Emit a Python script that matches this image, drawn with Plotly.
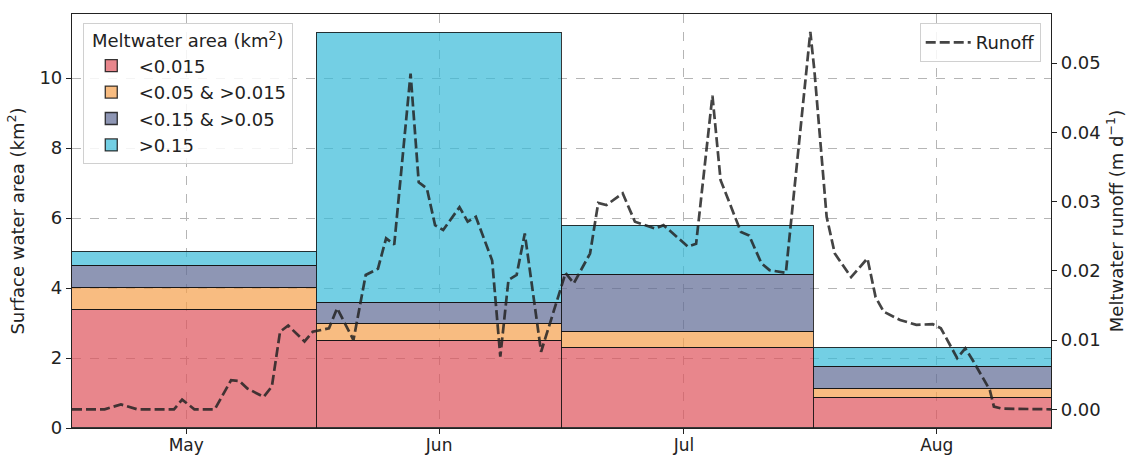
import plotly.graph_objects as go

# Monthly surface meltwater area, split by lake-size class (km^2)
month_start = ["2019-05-01", "2019-06-01", "2019-07-01", "2019-08-01"]
month_days = [31, 30, 31, 31]
area_small = [3.37, 2.49, 2.28, 0.85]      # < 0.015 km^2
area_medium = [0.62, 0.48, 0.47, 0.26]     # 0.015 - 0.05 km^2
area_large = [0.63, 0.61, 1.61, 0.62]      # 0.05 - 0.15 km^2
area_xlarge = [0.41, 7.70, 1.42, 0.55]     # > 0.15 km^2

class_names = ["<0.015", "<0.05 & >0.015", "<0.15 & >0.05", ">0.15"]
class_colors = [
    "rgba(222, 82, 91, 0.7)",
    "rgba(245, 159, 76, 0.7)",
    "rgba(94, 105, 148, 0.7)",
    "rgba(56, 186, 216, 0.7)",
]

# Modelled meltwater runoff (m d^-1)
runoff_time = [
    "2019-05-02 00:00", "2019-05-06 00:00", "2019-05-08 00:00", "2019-05-10 00:00",
    "2019-05-14 12:00", "2019-05-15 12:00", "2019-05-17 00:00", "2019-05-19 12:00",
    "2019-05-21 12:00", "2019-05-22 12:00", "2019-05-23 12:00", "2019-05-25 12:00",
    "2019-05-26 12:00", "2019-05-27 12:00", "2019-05-28 12:00", "2019-05-30 12:00",
    "2019-05-31 12:00", "2019-06-01 12:00", "2019-06-02 12:00", "2019-06-03 12:00",
    "2019-06-05 12:00", "2019-06-07 00:00", "2019-06-08 12:00", "2019-06-09 12:00",
    "2019-06-10 12:00", "2019-06-12 12:00", "2019-06-13 12:00", "2019-06-14 12:00",
    "2019-06-15 12:00", "2019-06-16 12:00", "2019-06-18 12:00", "2019-06-19 12:00",
    "2019-06-20 12:00", "2019-06-22 12:00", "2019-06-23 12:00", "2019-06-24 12:00",
    "2019-06-25 12:00", "2019-06-26 12:00", "2019-06-28 12:00", "2019-07-01 12:00",
    "2019-07-02 12:00", "2019-07-04 12:00", "2019-07-05 12:00", "2019-07-06 12:00",
    "2019-07-08 12:00", "2019-07-10 00:00", "2019-07-12 12:00", "2019-07-13 12:00",
    "2019-07-16 12:00", "2019-07-17 12:00", "2019-07-19 12:00", "2019-07-20 12:00",
    "2019-07-21 00:00", "2019-07-23 00:00", "2019-07-24 00:00", "2019-07-25 12:00",
    "2019-07-26 12:00", "2019-07-28 12:00", "2019-07-31 12:00", "2019-08-01 00:00",
    "2019-08-02 12:00", "2019-08-03 12:00", "2019-08-05 12:00", "2019-08-07 12:00",
    "2019-08-08 12:00", "2019-08-09 12:00", "2019-08-11 12:00", "2019-08-13 12:00",
    "2019-08-15 12:00", "2019-08-16 12:00", "2019-08-18 12:00", "2019-08-19 12:00",
    "2019-08-20 12:00", "2019-08-22 12:00", "2019-08-23 00:00", "2019-08-24 00:00",
    "2019-08-30 00:00",
]
runoff = [
    0.0, 0.0, 0.0007, 0.0, 0.0, 0.0014, 0.0, 0.0,
    0.0042, 0.0041, 0.0030, 0.0018, 0.0033, 0.0112, 0.0121, 0.0098,
    0.0112, 0.0114, 0.0117, 0.0146, 0.0100, 0.0194, 0.0203, 0.0247,
    0.0238, 0.0485, 0.0328, 0.0319, 0.0266, 0.0259, 0.0292, 0.0271,
    0.0278, 0.0215, 0.0076, 0.0187, 0.0194, 0.0254, 0.0083, 0.0197,
    0.0182, 0.0225, 0.0298, 0.0295, 0.0312, 0.0271, 0.0261, 0.0266,
    0.0235, 0.0239, 0.0453, 0.0331, 0.0316, 0.0256, 0.0251, 0.0211,
    0.0201, 0.0197, 0.0545, 0.0489, 0.0278, 0.0225, 0.0191, 0.0218,
    0.0162, 0.0141, 0.0129, 0.0122, 0.0123, 0.0117, 0.0074, 0.0088,
    0.0069, 0.0028, 0.0004, 0.0001, 0.0,
]

month_ticks = ["2019-05-16", "2019-06-16", "2019-07-16", "2019-08-16"]
month_labels = ["May", "Jun", "Jul", "Aug"]

DAY_MS = 86400000
FONT = "DejaVu Sans"
FS = 18
TEXT_FONT = dict(family=FONT, size=FS, color="#222")

fig = go.Figure()

for name, color, values in zip(class_names, class_colors,
                               [area_small, area_medium, area_large, area_xlarge]):
    fig.add_trace(go.Bar(
        x=month_start,
        y=values,
        width=[d * DAY_MS for d in month_days],
        offset=0,
        name=name,
        marker=dict(color=color, line=dict(color="rgba(20,20,20,0.85)", width=1.3)),
        legend="legend",
        yaxis="y",
    ))

fig.add_trace(go.Scatter(
    x=runoff_time,
    y=runoff,
    mode="lines",
    name="Runoff",
    line=dict(color="rgba(35,35,35,0.85)", width=2.7, dash="10px,4px"),
    yaxis="y2",
    legend="legend2",
))

axis_common = dict(
    showline=True, linecolor="#222", linewidth=1.2,
    ticks="outside", ticklen=5, tickwidth=1.2, tickcolor="#222",
    zeroline=False,
)

fig.update_layout(
    width=1129, height=456,
    margin=dict(l=72, r=78, t=14, b=28),
    paper_bgcolor="white",
    plot_bgcolor="white",
    barmode="stack",
    bargap=0,
    font=TEXT_FONT,
    xaxis=dict(
        type="date",
        range=["2019-05-02", "2019-08-30"],
        tickvals=month_ticks,
        ticktext=month_labels,
        tickfont=dict(family=FONT, size=17, color="#222"),
        ticklabelstandoff=-4,
        mirror=True,
        showgrid=True, gridcolor="#b5b5b5", griddash="dash", gridwidth=1,
        automargin=False,
        **axis_common,
    ),
    yaxis=dict(
        range=[0, 11.83],
        tickvals=[0, 2, 4, 6, 8, 10],
        tickfont=TEXT_FONT,
        showgrid=True, gridcolor="#b5b5b5", griddash="dash", gridwidth=1,
        title=dict(text="Surface water area (km<sup>2</sup>)",
                   font=TEXT_FONT, standoff=10),
        automargin=False,
        **axis_common,
    ),
    yaxis2=dict(
        overlaying="y",
        side="right",
        range=[-0.0027, 0.0571],
        tickvals=[0.0, 0.01, 0.02, 0.03, 0.04, 0.05],
        tickformat=".2f",
        tickfont=TEXT_FONT,
        showgrid=False,
        title=dict(text="Meltwater runoff (m d<sup>−1</sup>)",
                   font=TEXT_FONT, standoff=10),
        automargin=False,
        **axis_common,
    ),
    legend=dict(
        x=0.011, y=0.978, xanchor="left", yanchor="top",
        bgcolor="rgba(255,255,255,0.85)",
        bordercolor="#d0d0d0", borderwidth=1,
        font=TEXT_FONT,
        itemwidth=45,
        title=dict(text="Meltwater area (km<sup>2</sup>)", side="top center",
                   font=TEXT_FONT),
        traceorder="normal",
    ),
    legend2=dict(
        x=0.9895, y=0.978, xanchor="right", yanchor="top",
        bgcolor="rgba(255,255,255,0.85)",
        bordercolor="#d0d0d0", borderwidth=1,
        itemwidth=45,
        font=TEXT_FONT,
    ),
)

fig.write_html("out.html")
